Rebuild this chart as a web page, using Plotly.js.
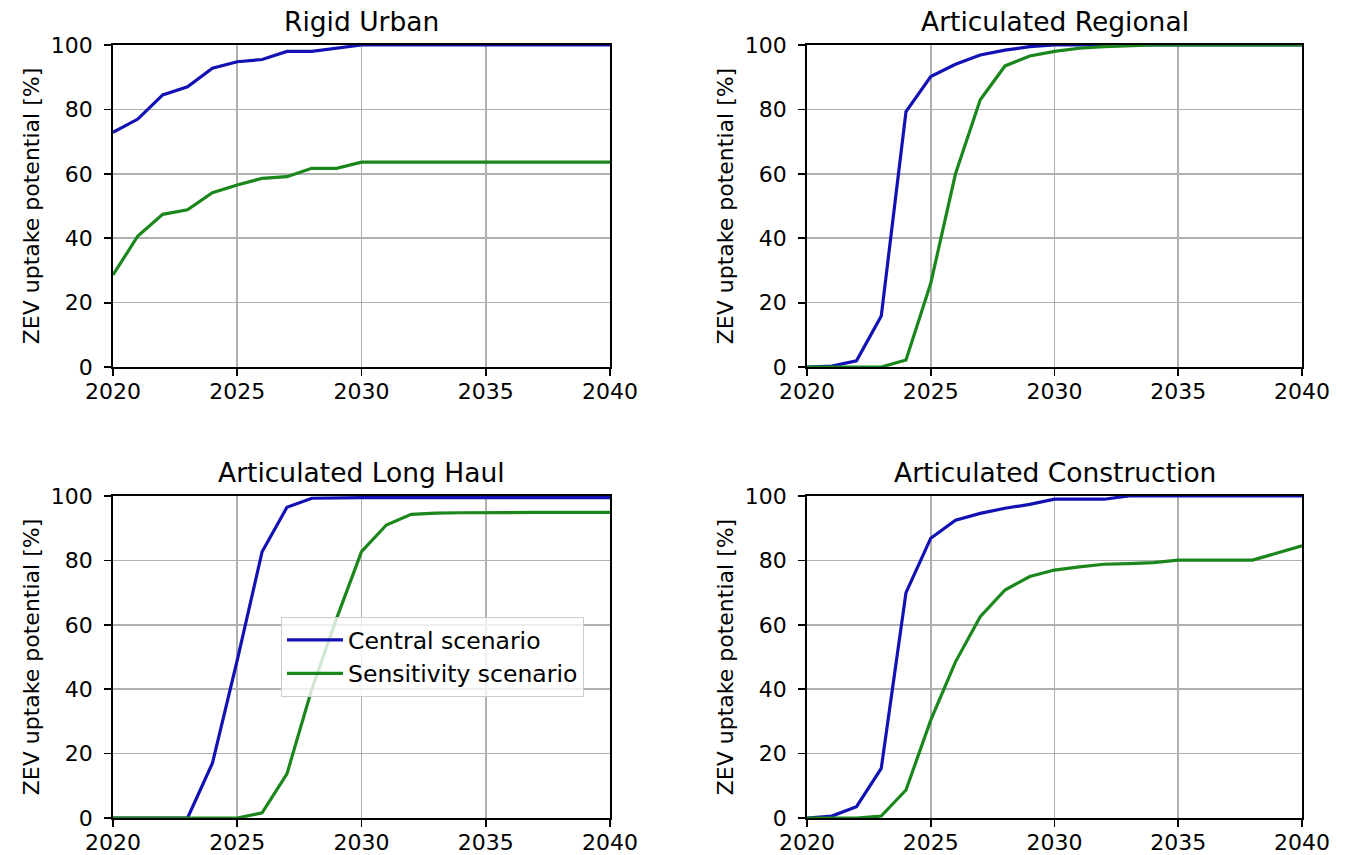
<!DOCTYPE html>
<html>
<head>
<meta charset="utf-8">
<script src="https://cdn.plot.ly/plotly-3.0.1.min.js"></script>
<style>
html, body { margin: 0; padding: 0; background: #ffffff; }
#chart { width: 1347px; height: 855px; }
</style>
</head>
<body>
<div id="chart"></div>
<script>
// ---- Data ----
const years = [2020, 2021, 2022, 2023, 2024, 2025, 2026, 2027, 2028, 2029, 2030,
               2031, 2032, 2033, 2034, 2035, 2036, 2037, 2038, 2039, 2040];

const panelTitles = ["Rigid Urban", "Articulated Regional", "Articulated Long Haul", "Articulated Construction"];
const seriesNames = ["Central scenario", "Sensitivity scenario"];
const yAxisLabel = "ZEV uptake potential [%]";

const rigidUrbanCentral = [72.9, 77.0, 84.5, 87.0, 92.8, 94.8, 95.5, 98.0, 98.0, 99.0, 100,
                           100, 100, 100, 100, 100, 100, 100, 100, 100, 100];
const rigidUrbanSensitivity = [28.6, 40.7, 47.4, 48.8, 54.1, 56.5, 58.6, 59.1, 61.7, 61.7, 63.6,
                               63.6, 63.6, 63.6, 63.6, 63.6, 63.6, 63.6, 63.6, 63.6, 63.6];

const regionalCentral = [0, 0.3, 1.9, 15.8, 79.3, 90.2, 94.0, 96.9, 98.4, 99.5, 100,
                         100, 100, 100, 100, 100, 100, 100, 100, 100, 100];
const regionalSensitivity = [0, 0, 0, 0, 2.2, 26.0, 60.0, 83.0, 93.5, 96.6, 98.0,
                             99.0, 99.5, 99.8, 100, 100, 100, 100, 100, 100, 100];

const longHaulCentral = [0, 0, 0, 0, 17.0, 49.0, 82.7, 96.5, 99.3, 99.5, 99.5,
                         99.5, 99.5, 99.5, 99.5, 99.5, 99.5, 99.5, 99.5, 99.5, 99.5];
const longHaulSensitivity = [0, 0, 0, 0, 0, 0, 1.6, 13.7, 40.0, 62.0, 82.7,
                             91.0, 94.3, 94.7, 94.8, 94.9, 94.9, 94.9, 94.9, 94.9, 94.9];

const constructionCentral = [0, 0.6, 3.5, 15.4, 70.0, 86.9, 92.5, 94.6, 96.2, 97.4, 99.0,
                             99.0, 99.0, 100, 100, 100, 100, 100, 100, 100, 100];
const constructionSensitivity = [0, 0, 0, 0.6, 8.7, 30.4, 48.5, 62.5, 70.8, 75.0, 77.0,
                                 78.0, 78.8, 79.0, 79.3, 80.1, 80.1, 80.1, 80.1, 82.3, 84.5];

const xTickVals = [2020, 2025, 2030, 2035, 2040];
const yTickVals = [0, 20, 40, 60, 80, 100];

// ---- Styling ----
const FONT = "DejaVu Sans, Liberation Sans, sans-serif";
const BLUE = "#1212b4";
const GREEN = "#1b861b";
const W = 1347, H = 855;

const panels = [
  {c: rigidUrbanCentral, s: rigidUrbanSensitivity, x: "x", y: "y", xd: [113, 610], yd: [45, 367]},
  {c: regionalCentral, s: regionalSensitivity, x: "x2", y: "y2", xd: [807, 1302], yd: [45, 367]},
  {c: longHaulCentral, s: longHaulSensitivity, x: "x3", y: "y3", xd: [113, 610], yd: [496, 818]},
  {c: constructionCentral, s: constructionSensitivity, x: "x4", y: "y4", xd: [807, 1302], yd: [496, 818]}
];

const traces = [];
const layout = {
  width: W, height: H,
  margin: {l: 0, r: 0, t: 0, b: 0},
  paper_bgcolor: "#ffffff",
  plot_bgcolor: "#ffffff",
  font: {family: FONT, size: 22, color: "#000000"},
  showlegend: true,
  legend: {
    x: 281 / W, y: 1 - 617 / H, xanchor: "left", yanchor: "top",
    bgcolor: "rgba(255,255,255,0.8)", bordercolor: "#cccccc", borderwidth: 1,
    font: {family: FONT, size: 23.5, color: "#000000"},
    itemwidth: 56, tracegroupgap: 0
  },
  annotations: []
};

panels.forEach((p, i) => {
  const showLeg = (i === 2);
  traces.push({
    x: years, y: p.c, xaxis: p.x, yaxis: p.y, type: "scatter", mode: "lines",
    name: seriesNames[0], legendgroup: "c", showlegend: showLeg,
    line: {color: BLUE, width: 3.2}
  });
  traces.push({
    x: years, y: p.s, xaxis: p.x, yaxis: p.y, type: "scatter", mode: "lines",
    name: seriesNames[1], legendgroup: "s", showlegend: showLeg,
    line: {color: GREEN, width: 3.2}
  });
  const sfx = i === 0 ? "" : String(i + 1);
  const xdom = [p.xd[0] / W, p.xd[1] / W];
  const ydom = [1 - p.yd[1] / H, 1 - p.yd[0] / H];
  layout["xaxis" + sfx] = {
    domain: xdom, anchor: p.y, range: [2020, 2040],
    tickvals: xTickVals, ticks: "outside", ticklen: 7, tickwidth: 1.8, tickcolor: "#000",
    ticklabelstandoff: -3,
    showline: true, mirror: true, linecolor: "#000", linewidth: 1.8,
    showgrid: true, gridcolor: "#b0b0b0", gridwidth: 1.6, zeroline: false,
    tickfont: {family: FONT, size: 22, color: "#000"}, fixedrange: true
  };
  layout["yaxis" + sfx] = {
    domain: ydom, anchor: p.x, range: [0, 100],
    tickvals: yTickVals, ticks: "outside", ticklen: 7, tickwidth: 1.8, tickcolor: "#000",
    ticklabelstandoff: 7,
    showline: true, mirror: true, linecolor: "#000", linewidth: 1.8,
    showgrid: true, gridcolor: "#b0b0b0", gridwidth: 1.6, zeroline: false,
    tickfont: {family: FONT, size: 22, color: "#000"}, fixedrange: true,
    title: {text: yAxisLabel, font: {family: FONT, size: 22, color: "#000"}, standoff: 5}
  };
  layout.annotations.push({
    text: panelTitles[i], xref: "paper", yref: "paper",
    x: (xdom[0] + xdom[1]) / 2, y: ydom[1], xanchor: "center", yanchor: "bottom",
    yshift: 6, showarrow: false,
    font: {family: FONT, size: 26.5, color: "#000"}
  });
});

Plotly.newPlot("chart", traces, layout, {staticPlot: true, displayModeBar: false});
</script>
</body>
</html>
